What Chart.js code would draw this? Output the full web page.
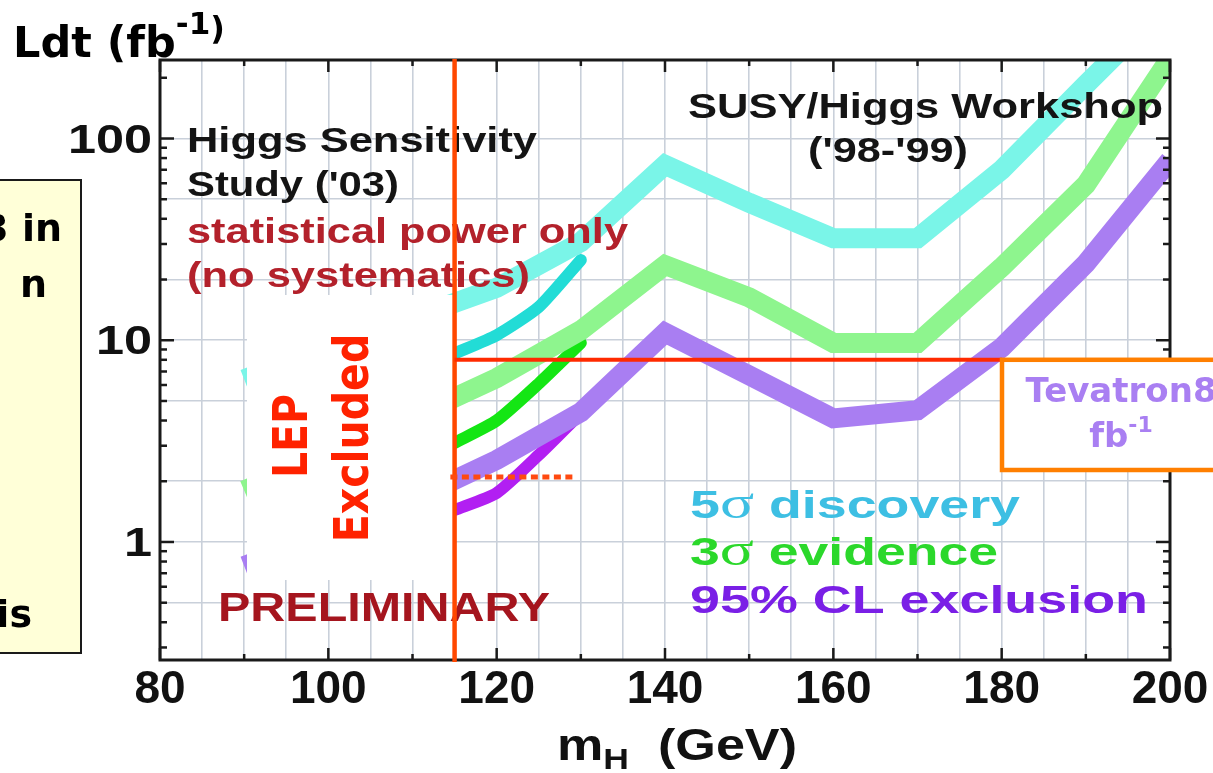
<!DOCTYPE html>
<html>
<head>
<meta charset="utf-8">
<script src="https://cdn.jsdelivr.net/npm/chart.js@4.4.1/dist/chart.umd.min.js"></script>
<style>
  html, body { margin: 0; padding: 0; background: #fff; }
  #wrap { width: 1213px; height: 773px; position: relative; overflow: hidden; }
</style>
</head>
<body>
<div id="wrap"><canvas id="c" width="1213" height="773"></canvas></div>
<script>
// SUSY/Higgs Workshop ('98-'99) reach, integrated luminosity in fb^-1
const massWorkshop      = [90, 100, 110, 120, 130, 140, 150, 160, 170, 180, 190, 200];
const discoveryWorkshop = [6.4, 9.3, 12.9, 18.2, 30.7, 74, 48, 32, 32, 70, 185, 480];
const evidenceWorkshop  = [1.8, 2.7, 4.16, 6.5, 11.2, 23.6, 16.3, 9.7, 9.7, 23, 59, 250];
const exclusionWorkshop = [0.76, 1.1, 1.62, 2.55, 4.4, 10.9, 6.7, 4.1, 4.5, 9.2, 24, 78];

// Higgs Sensitivity Study ('03), statistics only
const massStudy      = [115, 120, 125, 130];
const discoveryStudy = [8.6, 10.6, 14.6, 25];
const evidenceStudy  = [3.1, 4.0, 6.1, 9.7];
const exclusionStudy = [1.44, 1.75, 2.7, 4.35];

// reference levels
const lepLimit        = 115;        // GeV, LEP exclusion
const tevatronLumi    = 8;          // fb^-1
const markerLumi      = 2.1;        // fb^-1, dotted level
const markerMassRange = [114.5, 129];

// axes
const massRange   = [80, 200];
const lumiRange   = [0.26, 245];
const massLabels  = [80, 100, 120, 140, 160, 180, 200];
const lumiLabels  = [1, 10, 100];
const lumiGrid    = [0.5, 1, 2, 5, 10, 20, 50, 100];

const toPoints = (xs, ys) => xs.map((m, i) => ({ x: m, y: ys[i] }));

function curve(xs, ys, color, width, cap) {
  return {
    data: toPoints(xs, ys),
    borderColor: color,
    borderWidth: width,
    borderCapStyle: cap,
    borderJoinStyle: cap === 'round' ? 'round' : 'miter',
    pointRadius: 0,
    tension: cap === 'round' ? 0.2 : 0,
    fill: false,
    clip: 0
  };
}

// runs = [[text, font, dy], ...]; width > 0 fits the text to that width, scale sets a fixed stretch
function drawRuns(ctx, runs, x, y, width, color, align, scale) {
  ctx.save();
  ctx.fillStyle = color;
  ctx.textBaseline = 'alphabetic';
  ctx.textAlign = 'left';
  let natural = 0;
  const widths = runs.map(r => { ctx.font = r[1]; const w = ctx.measureText(r[0]).width; natural += w; return w; });
  const sx = width ? width / natural : (scale || 1);
  const total = natural * sx;
  let x0 = x;
  if (align === 'center') x0 = x - total / 2;
  if (align === 'right') x0 = x - total;
  ctx.translate(x0, y);
  ctx.scale(sx, 1);
  let cx = 0;
  runs.forEach((r, i) => { ctx.font = r[1]; ctx.fillText(r[0], cx, r[2] || 0); cx += widths[i]; });
  ctx.restore();
}

function rotatedText(ctx, text, x, y, font, color, sx) {
  ctx.save();
  ctx.fillStyle = color;
  ctx.font = font;
  ctx.textAlign = 'center';
  ctx.textBaseline = 'alphabetic';
  ctx.translate(x, y);
  ctx.scale(sx, 1);
  ctx.rotate(-Math.PI / 2);
  ctx.fillText(text, 0, 0);
  ctx.restore();
}

function seg(ctx, x1, y1, x2, y2) {
  ctx.beginPath(); ctx.moveTo(x1, y1); ctx.lineTo(x2, y2); ctx.stroke();
}

const SANS = '"Liberation Sans", Arial, sans-serif';
const VERD = '"DejaVu Sans", Verdana, sans-serif';

const overlay = {
  id: 'overlay',
  afterDatasetsDraw(chart) {
    const { ctx, chartArea: a, scales: { x, y } } = chart;
    const lepX = x.getPixelForValue(lepLimit);

    // white panel over the LEP-excluded region
    ctx.save();
    ctx.fillStyle = '#ffffff';
    ctx.fillRect(247, 295, lepX - 247, 285);
    ctx.restore();

    // annotations inside the plot
    drawRuns(ctx, [['Higgs Sensitivity', 'bold 35px ' + SANS]], 187, 152, 350, '#141414');
    drawRuns(ctx, [["Study ('03)", 'bold 35px ' + SANS]], 187, 196, 212, '#141414');
    drawRuns(ctx, [['statistical power only', 'bold 35px ' + SANS]], 187, 243, 441, '#b3212b');
    drawRuns(ctx, [['(no systematics)', 'bold 35px ' + SANS]], 187, 287, 343, '#b3212b');
    drawRuns(ctx, [['SUSY/Higgs Workshop', 'bold 35px ' + SANS]], 688, 118, 475, '#141414');
    drawRuns(ctx, [["('98-'99)", 'bold 35px ' + SANS]], 888, 162, 160, '#141414', 'center');

    drawRuns(ctx, [['5', 'bold 39px ' + SANS], ['σ', '46px "Liberation Serif", serif'], [' discovery', 'bold 39px ' + SANS]],
             690, 518, 330, '#3dbfe3');
    drawRuns(ctx, [['3', 'bold 39px ' + SANS], ['σ', '46px "Liberation Serif", serif'], [' evidence', 'bold 39px ' + SANS]],
             690, 565, 308, '#2bd82b');
    drawRuns(ctx, [['95% CL exclusion', 'bold 39px ' + SANS]], 690, 613, 458, '#7a1fe6');
    drawRuns(ctx, [['PRELIMINARY', 'bold 40px ' + SANS]], 218, 621, 332, '#a5151e');

    rotatedText(ctx, 'LEP', 307, 436, 'bold 41px ' + VERD, '#ff2200', 1.15);
    rotatedText(ctx, 'Excluded', 368, 438, 'bold 41px ' + VERD, '#ff2200', 1.15);

    // frame with inward tick marks
    ctx.save();
    ctx.strokeStyle = '#1a1a1a';
    ctx.lineWidth = 2.5;
    for (let m = massRange[0]; m <= massRange[1]; m += 10) {
      const px = x.getPixelForValue(m);
      const len = m % 20 === 0 ? 12 : 6;
      seg(ctx, px, a.bottom, px, a.bottom - len);
      seg(ctx, px, a.top, px, a.top + len);
    }
    [0.1, 1, 10, 100].forEach(dec => {
      for (let k = 1; k <= 9; k++) {
        const v = k * dec;
        if (v < lumiRange[0] || v > lumiRange[1]) continue;
        const py = y.getPixelForValue(v);
        const len = k === 1 ? 14 : 7;
        seg(ctx, a.left, py, a.left + len, py);
        seg(ctx, a.right, py, a.right - len, py);
      }
    });
    ctx.lineWidth = 3;
    ctx.strokeRect(a.left, a.top, a.right - a.left, a.bottom - a.top);
    ctx.restore();

    // LEP limit and Tevatron luminosity lines
    const tevY = y.getPixelForValue(tevatronLumi);
    const boxLeft = 1002;
    ctx.save();
    ctx.strokeStyle = '#ff4800';
    ctx.lineWidth = 4.5;
    seg(ctx, lepX, a.top - 1, lepX, a.bottom + 2);
    ctx.strokeStyle = '#ff2a00';
    ctx.lineWidth = 4;
    seg(ctx, lepX, tevY, boxLeft, tevY);
    ctx.strokeStyle = '#ff4a10';
    ctx.lineWidth = 5;
    ctx.setLineDash([7, 4.5]);
    const my = y.getPixelForValue(markerLumi);
    seg(ctx, x.getPixelForValue(markerMassRange[0]), my, x.getPixelForValue(markerMassRange[1]), my);
    ctx.restore();

    // Tevatron box
    ctx.save();
    ctx.fillStyle = '#ffffff';
    ctx.fillRect(boxLeft, tevY, 260, 470 - tevY);
    ctx.strokeStyle = '#ff7f00';
    ctx.lineWidth = 4.5;
    ctx.strokeRect(boxLeft, tevY, 260, 470 - tevY);
    ctx.restore();
    drawRuns(ctx, [['Tevatron8', 'bold 34px ' + VERD]], 1121, 402, 0, '#a97ff2', 'center');
    drawRuns(ctx, [['fb', 'bold 34px ' + VERD], ['-1', 'bold 22px ' + VERD, -15]], 1121, 447, 0, '#a97ff2', 'center');

    // y tick labels, placed from the log scale
    lumiLabels.forEach(v => {
      const py = y.getPixelForValue(v);
      drawRuns(ctx, [[String(v), 'bold 40px ' + SANS]], 152, py + 14, 0, '#111111', 'right', 1.26);
    });
  },
  afterDraw(chart) {
    const { ctx } = chart;
    // axis titles
    drawRuns(ctx, [['m', 'bold 44px ' + SANS], ['H', 'bold 30px ' + SANS, 9], ['  (GeV)', 'bold 44px ' + SANS]],
             557, 760, 240, '#111111');
    drawRuns(ctx, [['Ldt (fb', 'bold 43px ' + VERD], ['-1', 'bold 31px ' + VERD, -23], [')', 'bold 32px ' + VERD, -18]],
             13, 57, 0, '#000000');

    // side note panel
    ctx.save();
    ctx.fillStyle = '#ffffd8';
    ctx.strokeStyle = '#1a1a1a';
    ctx.lineWidth = 2;
    ctx.fillRect(-5, 180, 86, 473);
    ctx.strokeRect(-5, 180, 86, 473);
    ctx.restore();
    drawRuns(ctx, [['3 in', 'bold 38px ' + VERD]], 62, 241, 0, '#000000', 'right');
    drawRuns(ctx, [['n', 'bold 38px ' + VERD]], 47, 297, 0, '#000000', 'right');
    drawRuns(ctx, [['is', 'bold 38px ' + VERD]], 32, 627, 0, '#000000', 'right');
  }
};

new Chart(document.getElementById('c').getContext('2d'), {
  type: 'line',
  data: {
    datasets: [
      curve(massWorkshop, discoveryWorkshop, '#7af5e8', 20, 'butt'),
      curve(massWorkshop, evidenceWorkshop, '#8ef58e', 20, 'butt'),
      curve(massWorkshop, exclusionWorkshop, '#a97ef2', 20, 'butt'),
      curve(massStudy, discoveryStudy, '#22dcd6', 12, 'round'),
      curve(massStudy, evidenceStudy, '#14e614', 12, 'round'),
      curve(massStudy, exclusionStudy, '#b21ff2', 12, 'round')
    ]
  },
  options: {
    responsive: false,
    animation: false,
    layout: { padding: { top: 60, right: 43, left: 0, bottom: 0 } },
    plugins: { legend: { display: false }, tooltip: { enabled: false } },
    scales: {
      x: {
        type: 'linear',
        min: massRange[0],
        max: massRange[1],
        afterFit: s => { s.height = 113; },
        ticks: {
          stepSize: 5,
          autoSkip: false,
          maxRotation: 0,
          minRotation: 0,
          padding: 3,
          color: '#111111',
          font: { family: SANS, size: 46, weight: 'bold' },
          callback: v => (massLabels.includes(v) ? String(v) : '')
        },
        grid: { color: '#c9d0da', lineWidth: 1.6, drawTicks: false },
        border: { display: false }
      },
      y: {
        type: 'logarithmic',
        min: lumiRange[0],
        max: lumiRange[1],
        afterFit: s => { s.width = 160; },
        afterBuildTicks: s => { s.ticks = lumiGrid.map(v => ({ value: v })); },
        ticks: { display: false },
        grid: { color: '#c9d0da', lineWidth: 1.6, drawTicks: false },
        border: { display: false }
      }
    }
  },
  plugins: [overlay]
});
</script>
</body>
</html>
